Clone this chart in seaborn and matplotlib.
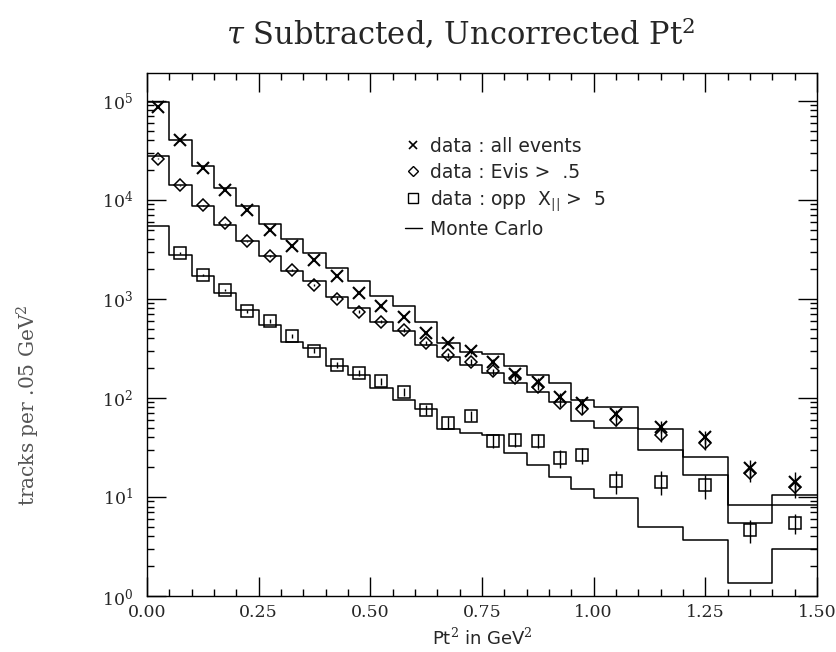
import numpy as np
import matplotlib
matplotlib.use("Agg")
import matplotlib.pyplot as plt
import seaborn as sns
from matplotlib.lines import Line2D
from matplotlib.ticker import MultipleLocator, LogLocator, NullFormatter, FormatStrFormatter

# Pt^2 binning: 0.05 GeV^2 bins up to 1.0, then 0.1 GeV^2 bins
bin_edges = [0.00, 0.05, 0.10, 0.15, 0.20, 0.25, 0.30, 0.35, 0.40, 0.45, 0.50,
             0.55, 0.60, 0.65, 0.70, 0.75, 0.80, 0.85, 0.90, 0.95, 1.00,
             1.10, 1.20, 1.30, 1.40, 1.50]
bin_centers = [0.025, 0.075, 0.125, 0.175, 0.225, 0.275, 0.325, 0.375, 0.425, 0.475,
               0.525, 0.575, 0.625, 0.675, 0.725, 0.775, 0.825, 0.875, 0.925, 0.975,
               1.05, 1.15, 1.25, 1.35, 1.45]

# Monte Carlo expectations (tracks per bin)
mc_all = [96000, 40000, 22000, 13300, 8700, 5700, 4000, 2900, 2050, 1500,
          1070, 840, 590, 360, 290, 280, 210, 170, 140, 96,
          80, 48, 25.5, 8.3, 10.5]
mc_evis = [27500, 14000, 8600, 5600, 3800, 2700, 1900, 1500, 1050, 810,
           580, 470, 340, 260, 215, 180, 140, 115, 90, 59,
           50, 30, 16.5, 5.5, 8.3]
mc_opp = [5400, 2800, 1700, 1150, 770, 550, 370, 320, 210, 170,
          125, 96, 78, 49, 44, 42, 28, 21, 16, 12,
          9.7, 5.0, 3.7, 1.35, 3.0]

# measured track counts and their errors
data_all = [86000, 40000, 21000, 12600, 7800, 5000, 3400, 2450, 1700, 1150,
            840, 660, 450, 360, 295, 230, 175, 145, 102, 88,
            68, 51, 40, 19.5, 14.3]
err_all = [300, 200, 150, 110, 90, 70, 60, 50, 40, 35,
           28, 25, 20, 18, 17, 15, 13, 12, 10, 9,
           8, 7, 6, 4, 3.5]
data_evis = [26000, 14000, 8800, 5800, 3800, 2700, 1950, 1380, 1000, 740,
             590, 490, 360, 270, 230, 185, 160, 130, 89, 78,
             60, 42, 35, 17.5, 12.7]
err_evis = [160, 120, 90, 75, 60, 50, 45, 38, 32, 27,
            24, 22, 19, 16, 15, 13, 12, 11, 9, 8.5,
            7.5, 6.5, 5.5, 3.5, 3.0]
data_opp = [np.nan, 2900, 1740, 1230, 750, 600, 420, 300, 215, 180,
            147, 115, 76, 56, 66, 37, 38, 37, 24.6, 26.5,
            14.5, 14.3, 13.2, 4.6, 5.5]
err_opp = [0, 55, 42, 35, 27, 24, 20, 17, 15, 13,
           12, 11, 9, 7.5, 8, 6, 6, 6, 5, 5,
           3.8, 3.8, 3.6, 1.2, 1.3]

x_ticks = [0.00, 0.25, 0.50, 0.75, 1.00, 1.25, 1.50]

sns.set_style("ticks")
plt.rcParams["font.family"] = ["DejaVu Serif"]
plt.rcParams["mathtext.fontset"] = "dejavuserif"

W, H = 837, 652
fig = plt.figure(figsize=(W / 100, H / 100), dpi=100)
ax = fig.add_axes([147 / W, 1 - 596 / H, 670 / W, 523 / H])

# Monte Carlo step histograms
for mc in (mc_all, mc_evis, mc_opp):
    sns.histplot(x=bin_centers, weights=mc, bins=bin_edges, element="step",
                 fill=False, color="black", linewidth=1.1, ax=ax)

# data points
ax.errorbar(bin_centers, data_all, yerr=err_all, fmt="x", color="black",
            ms=8, mew=1.5, elinewidth=1.0, capsize=0)
ax.errorbar(bin_centers, data_evis, yerr=err_evis, fmt="D", color="black",
            mfc="none", ms=6.5, mew=1.1, elinewidth=1.0, capsize=0)
ax.errorbar(bin_centers, data_opp, yerr=err_opp, fmt="s", color="black",
            mfc="none", ms=8, mew=1.1, elinewidth=1.0, capsize=0)

ax.set_yscale("log")
ax.set_xlim(0, 1.5)
ax.set_ylim(1, 10 ** 5.28)
ax.set_xlabel("")
ax.set_ylabel("")

ax.xaxis.set_minor_locator(MultipleLocator(0.05))
ax.set_xticks(x_ticks)
ax.xaxis.set_major_formatter(FormatStrFormatter("%.2f"))
ax.yaxis.set_major_locator(LogLocator(base=10, numticks=10))
ax.yaxis.set_minor_locator(LogLocator(base=10, subs=np.arange(2, 10), numticks=20))
ax.yaxis.set_minor_formatter(NullFormatter())

ax.tick_params(which="both", direction="in", top=True, right=True,
               color="black", width=1.0, labelsize=12.5)
ax.tick_params(which="major", length=14)
ax.tick_params(which="minor", length=5)
ax.tick_params(axis="x", pad=6)
ax.tick_params(axis="y", pad=10)
for s in ax.spines.values():
    s.set_linewidth(1.0)
    s.set_color("black")

handles = [
    Line2D([], [], marker="x", ls="none", color="black", ms=6, mew=1.2),
    Line2D([], [], marker="D", ls="none", color="black", mfc="none", ms=5, mew=1.0),
    Line2D([], [], marker="s", ls="none", color="black", mfc="none", ms=6.5, mew=1.0),
    Line2D([], [], color="black", lw=1.0),
]
labels = ["data : all events", "data : Evis >  .5",
          "data : opp  X$_{||}$ >  5", "Monte Carlo"]
ax.legend(handles, labels, loc="upper left",
          bbox_to_anchor=((405 - 147) / 670, 1 - (137 - 73) / 523),
          frameon=False, handlelength=0.9, handletextpad=0.45,
          labelspacing=0.36, borderaxespad=0, borderpad=0,
          prop={"family": "DejaVu Sans", "size": 13.5})

fig.text(461 / W, 1 - 34 / H, r"$\tau$ Subtracted, Uncorrected Pt$^2$",
         ha="center", va="center", fontsize=22, family="DejaVu Serif")
fig.text(482 / W, 1 - 638 / H, "Pt$^2$ in GeV$^2$", ha="center", va="center",
         fontsize=13, family="DejaVu Sans")
fig.text(28 / W, 1 - 405 / H, "tracks per .05 GeV$^2$", ha="center", va="center",
         rotation=90, fontsize=14.5, color="#555555", family="DejaVu Serif")

fig.savefig("out.png", dpi=100, facecolor="white")
